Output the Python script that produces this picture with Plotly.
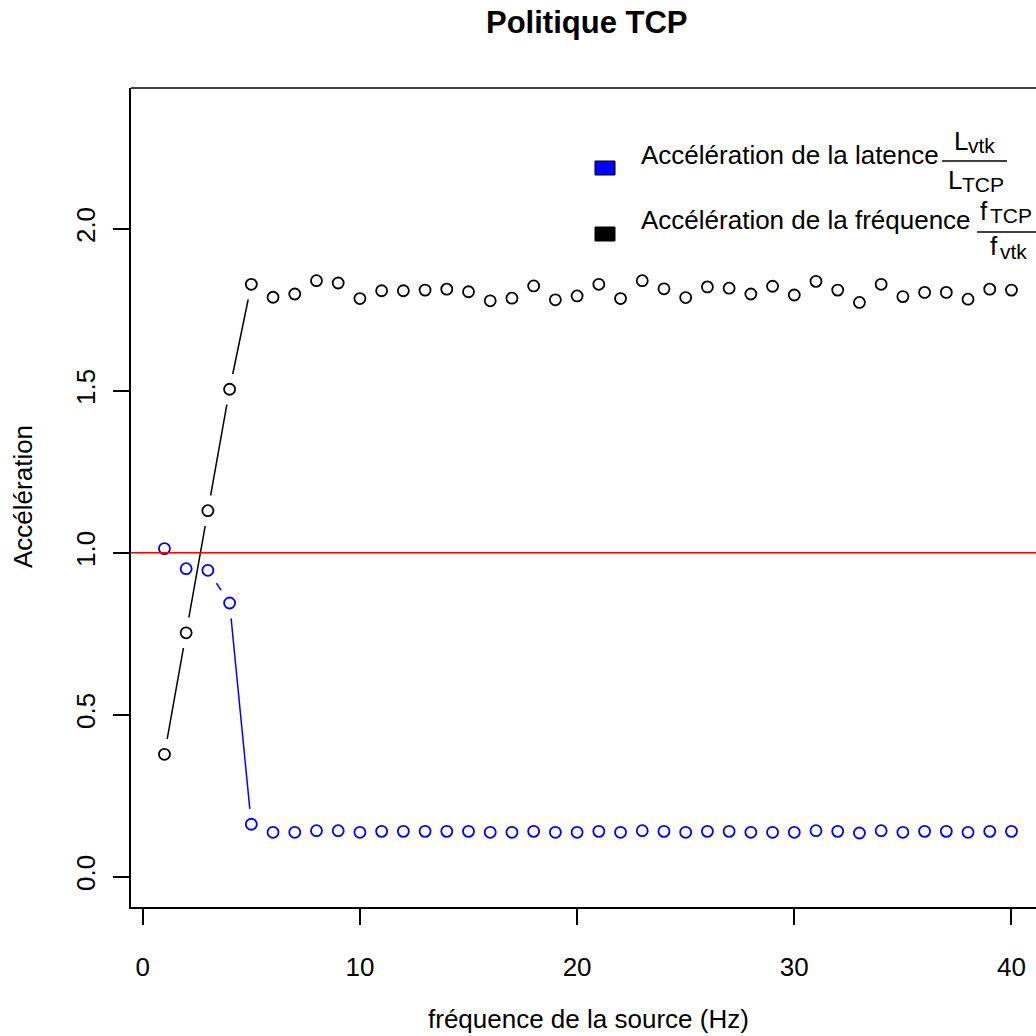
import plotly.graph_objects as go

# ---------------- data ----------------
freq = list(range(1, 41))
acc_latence = [1.013, 0.951, 0.946, 0.845, 0.162, 0.137, 0.137, 0.142, 0.142, 0.137,
               0.140, 0.140, 0.140, 0.140, 0.140, 0.137, 0.137, 0.140, 0.137, 0.137,
               0.140, 0.137, 0.142, 0.140, 0.137, 0.140, 0.140, 0.137, 0.137, 0.137,
               0.142, 0.140, 0.135, 0.142, 0.137, 0.140, 0.140, 0.137, 0.140, 0.140]
acc_frequence = [0.378, 0.753, 1.130, 1.505, 1.829, 1.789, 1.799, 1.840, 1.833, 1.785,
                 1.809, 1.809, 1.811, 1.814, 1.806, 1.778, 1.786, 1.824, 1.781, 1.793,
                 1.829, 1.785, 1.840, 1.815, 1.788, 1.821, 1.817, 1.799, 1.823, 1.796,
                 1.838, 1.811, 1.773, 1.829, 1.791, 1.804, 1.804, 1.783, 1.814, 1.811]
ref_level = 1.0
x_ticks = [0, 10, 20, 30, 40]
y_ticks = [0.0, 0.5, 1.0, 1.5, 2.0]
y_tick_text = ["0.0", "0.5", "1.0", "1.5", "2.0"]

FONT = "Liberation Sans, Arial, Helvetica, sans-serif"
W = H = 1036
ML, MR, MT, MB = 131, 0, 88, 129


def px(xp):
    return (xp - ML) / (W - ML - MR)


def py(yp):
    return (H - MB - yp) / (H - MT - MB)


fig = go.Figure()

halo = dict(symbol="circle", size=31, color="white", line=dict(width=0))

# blue series: line, halo (gaps as in type="b")
fig.add_trace(go.Scatter(x=freq, y=acc_latence, mode="lines",
                         line=dict(color="#0000FF", width=1.5), hoverinfo="skip"))
fig.add_trace(go.Scatter(x=freq, y=acc_latence, mode="markers", marker=halo, hoverinfo="skip"))
# black series
fig.add_trace(go.Scatter(x=freq, y=acc_frequence, mode="lines",
                         line=dict(color="black", width=1.5), hoverinfo="skip"))
fig.add_trace(go.Scatter(x=freq, y=acc_frequence, mode="markers", marker=halo, hoverinfo="skip"))
# markers
fig.add_trace(go.Scatter(x=freq, y=acc_latence, mode="markers",
                         marker=dict(symbol="circle-open", size=11, color="#0000FF",
                                     line=dict(width=1.8, color="#0000FF"))))
fig.add_trace(go.Scatter(x=freq, y=acc_frequence, mode="markers",
                         marker=dict(symbol="circle-open", size=11, color="black",
                                     line=dict(width=1.8, color="black"))))

shapes = []
# reference line
shapes.append(dict(type="line", xref="paper", yref="y", x0=0, x1=1, y0=ref_level, y1=ref_level,
                   line=dict(color="#FF0000", width=1.5), layer="above"))
# box top
shapes.append(dict(type="line", xref="paper", yref="paper", x0=0, x1=1, y0=1, y1=1,
                   line=dict(color="black", width=1.5)))
# legend boxes
shapes.append(dict(type="rect", xref="paper", yref="paper", x0=px(595), x1=px(615),
                   y0=py(175), y1=py(161), fillcolor="#0000FF", line=dict(color="black", width=1)))
shapes.append(dict(type="rect", xref="paper", yref="paper", x0=px(595), x1=px(615),
                   y0=py(241), y1=py(227), fillcolor="black", line=dict(color="black", width=1)))
# fraction bars
shapes.append(dict(type="line", xref="paper", yref="paper", x0=px(942), x1=px(1007),
                   y0=py(161), y1=py(161), line=dict(color="black", width=1.5)))
shapes.append(dict(type="line", xref="paper", yref="paper", x0=px(977), x1=px(1036),
                   y0=py(232), y1=py(232), line=dict(color="black", width=1.5)))

ann = []


def txt(text, x, y, size=26, xanchor="left", yanchor="middle", bold=False, angle=0):
    ann.append(dict(text=("<b>%s</b>" % text) if bold else text, xref="paper", yref="paper",
                    x=px(x), y=py(y), xanchor=xanchor, yanchor=yanchor, showarrow=False,
                    textangle=angle, font=dict(family=FONT, size=size, color="black")))


txt("Politique TCP", 587, 22, size=31, xanchor="center", bold=True)
txt("fréquence de la source (Hz)", 588, 1019, xanchor="center")
txt("Accélération", 23, 497, xanchor="center", angle=-90)

# legend labels
txt("Accélération de la latence", 639, 155)
txt("Accélération de la fréquence", 639, 220)
# fraction 1: L_vtk / L_TCP
txt("L", 970, 141, xanchor="right")
txt("vtk", 966, 146, size=21)
txt("L", 964, 180, xanchor="right")
txt("TCP", 960, 184, size=21)
# fraction 2: f_TCP / f_vtk
txt("f", 990, 211, xanchor="right")
txt("TCP", 988, 215, size=21)
txt("f", 1000, 246, xanchor="right")
txt("vtk", 998, 252, size=21)

fig.update_layout(
    width=W, height=H, margin=dict(l=ML, r=MR, t=MT, b=MB),
    paper_bgcolor="white", plot_bgcolor="white", showlegend=False,
    font=dict(family=FONT, size=26, color="black"),
    shapes=shapes, annotations=ann,
    xaxis=dict(range=[-0.54, 41.13], tickvals=x_ticks, ticks="outside", ticklen=16,
               tickwidth=1.5, tickcolor="black", showline=True, linecolor="black",
               linewidth=1.5, showgrid=False, zeroline=False,
               tickfont=dict(family=FONT, size=26, color="black"), ticklabelstandoff=20),
    yaxis=dict(range=[-0.0935, 2.435], tickvals=y_ticks, ticktext=y_tick_text,
               ticks="outside", ticklen=16, tickwidth=1.5, tickcolor="black",
               showline=True, linecolor="black", linewidth=1.5, showgrid=False,
               zeroline=False, tickangle=-90,
               tickfont=dict(family=FONT, size=26, color="black"), ticklabelstandoff=8),
)

fig.write_html("out.html")
